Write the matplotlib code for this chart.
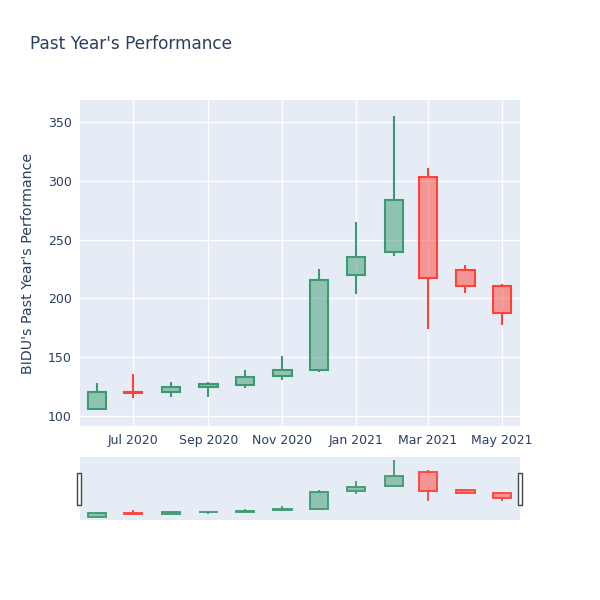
import matplotlib
matplotlib.use("Agg")
import matplotlib.pyplot as plt
import matplotlib.dates as mdates
from matplotlib.patches import Rectangle
import pandas as pd

# monthly BIDU candles
dates = pd.to_datetime(["2020-06-01", "2020-07-01", "2020-08-01", "2020-09-01",
                        "2020-10-01", "2020-11-01", "2020-12-01", "2021-01-01",
                        "2021-02-01", "2021-03-01", "2021-04-01", "2021-05-01"])
opens = [106, 120.5, 120, 125, 126, 134, 139, 219.5, 239.5, 303.5, 224, 210.5]
highs = [128, 135.5, 129, 128.5, 139, 151, 225, 265, 355, 311, 228, 212.5]
lows = [105.5, 115.5, 116, 116.5, 124, 131, 137.5, 204, 236, 174, 205, 177]
closes = [120.5, 119.5, 125, 127, 133, 139.5, 216, 235, 283.5, 217.5, 210.5, 188]

INC = "#3D9970"
DEC = "#FF4136"
TXT = "#2a3f5f"
BG = "#e5ecf6"
lw = 1.5


def draw_candles(ax, lw):
    for d, o, h, l, c in zip(dates, opens, highs, lows, closes):
        col = INC if c >= o else DEC
        lo, hi = min(o, c), max(o, c)
        ax.bar(d, hi - lo, bottom=lo, width=15, color=col, alpha=0.5,
               edgecolor="none", zorder=3)
        ax.bar(d, hi - lo, bottom=lo, width=15, facecolor="none",
               edgecolor=col, linewidth=lw, zorder=4)
        ax.vlines(d, hi, h, color=col, linewidth=lw, zorder=4)
        ax.vlines(d, l, lo, color=col, linewidth=lw, zorder=4)


xmin = dates[0] - pd.Timedelta(days=14)
xmax = dates[-1] + pd.Timedelta(days=15)

fig = plt.figure(figsize=(6, 6), dpi=100)

ax = fig.add_axes([80 / 600, 1 - 426 / 600, 440 / 600, 326 / 600])
ax.set_facecolor(BG)
for s in ax.spines.values():
    s.set_visible(False)
ax.grid(True, color="white", linewidth=1, zorder=0)
ax.set_axisbelow(True)
draw_candles(ax, lw)
ax.set_xlim(xmin, xmax)
ax.set_ylim(91.5, 368.7)
ax.set_yticks([100, 150, 200, 250, 300, 350])
ax.xaxis.set_major_locator(mdates.MonthLocator(bymonth=[1, 3, 5, 7, 9, 11]))
ax.xaxis.set_major_formatter(mdates.DateFormatter("%b %Y"))
ax.tick_params(length=0, colors=TXT, labelsize=9, pad=6)
ax.set_ylabel("BIDU's Past Year's Performance", color=TXT, fontsize=10.2)
ax.yaxis.set_label_coords(-0.102, 0.5)

# range slider
sl = fig.add_axes([80 / 600, 1 - 520 / 600, 440 / 600, 63 / 600])
sl.set_facecolor(BG)
for s in sl.spines.values():
    s.set_visible(False)
draw_candles(sl, 1.3)
sl.set_xlim(xmin, xmax)
sl.set_ylim(91.5, 368.7)
sl.set_xticks([])
sl.set_yticks([])

for hx in (77, 518):
    fig.patches.append(Rectangle((hx / 600, 1 - 505 / 600), 4 / 600, 32 / 600,
                                 transform=fig.transFigure, facecolor="white",
                                 edgecolor="#444444", linewidth=1))

fig.text(30 / 600, 1 - 44 / 600, "Past Year's Performance", color=TXT,
         fontsize=12.2, va="center", ha="left")

fig.savefig("out.png", dpi=100)
